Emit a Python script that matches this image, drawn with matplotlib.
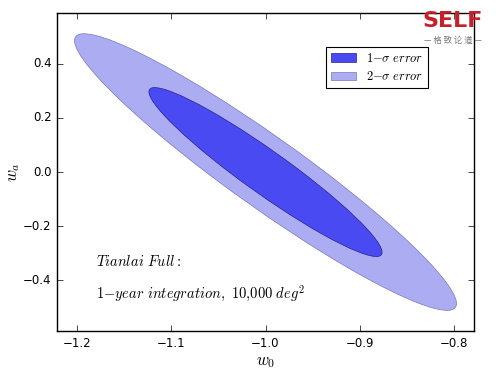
import numpy as np
import matplotlib
matplotlib.use('Agg')
import matplotlib.pyplot as plt
from matplotlib.patches import Ellipse

plt.style.use('classic')
plt.rcParams['mathtext.fontset'] = 'cm'

# Fisher forecast for (w0, wa)
center = (-1.0, 0.0)
sigma_w0 = 0.0815
sigma_wa = 0.206
rho = -0.95
dchi2 = [2.30, 6.17]          # 1-sigma, 2-sigma for 2 params
labels = [r'$1{-}\sigma\ error$', r'$2{-}\sigma\ error$']
fills = ['#4a4af2', '#acacf3']
edges = ['#22228a', '#7777bb']

xticks = [-1.2, -1.1, -1.0, -0.9, -0.8]
yticks = [-0.4, -0.2, 0.0, 0.2, 0.4]

cov = np.array([[sigma_w0**2, rho*sigma_w0*sigma_wa],
                [rho*sigma_w0*sigma_wa, sigma_wa**2]])
vals, vecs = np.linalg.eigh(cov)
angle = np.degrees(np.arctan2(vecs[1, 1], vecs[0, 1]))

fig = plt.figure(figsize=(5.0, 3.77), dpi=100, facecolor='white')
ax = fig.add_axes([0.114, 0.122, 0.834, 0.844])

handles = []
for i in [1, 0]:
    s = np.sqrt(dchi2[i])
    e = Ellipse(center, 2*s*np.sqrt(vals[1]), 2*s*np.sqrt(vals[0]), angle=angle,
                facecolor=fills[i], edgecolor=edges[i], lw=0.5, label=labels[i])
    ax.add_patch(e)
    handles.append(e)

ax.set_xlim(-1.221, -0.779)
ax.set_ylim(-0.588, 0.589)
ax.set_xticks(xticks)
ax.set_yticks(yticks)
ax.tick_params(labelsize=8.5)
ax.set_xlabel(r'$w_0$', fontsize=12)
ax.set_ylabel(r'$w_a$', fontsize=12)
ax.xaxis.set_label_coords(0.5, -0.065)
ax.yaxis.set_label_coords(-0.084, 0.5)

leg = ax.legend(handles[::-1], labels, loc='upper right', bbox_to_anchor=(0.89, 0.893),
                borderaxespad=0, fontsize=9, frameon=True, handlelength=2.0,
                handletextpad=0.8, borderpad=0.4, labelspacing=0.45, fancybox=False)
leg.get_frame().set_linewidth(0.8)

ax.text(-1.18, -0.33, r'$Tianlai\ Full:$', fontsize=10.5, va='center')
ax.text(-1.18, -0.45, r'$1{-}year\ integration,\ 10{,}000\ deg^2$', fontsize=10.5, va='center')

# watermark
fig.text(0.905, 0.945, 'SELF', color='#c8202a', fontsize=16, fontweight='bold',
         ha='center', va='center', family='DejaVu Sans')
fig.text(0.905, 0.893, '— 格 致 论 道 —', color='#777777', fontsize=6,
         ha='center', va='center', family=['Noto Sans CJK SC', 'DejaVu Sans'])

fig.savefig('out.png', dpi=100, facecolor='white')
